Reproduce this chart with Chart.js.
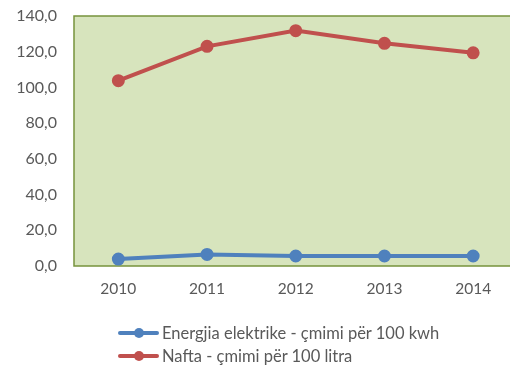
<!DOCTYPE html>
<html>
<head>
<meta charset="utf-8">
<script src="https://cdn.jsdelivr.net/npm/chart.js@4/dist/chart.umd.min.js"></script>
<style>
  html, body { margin: 0; padding: 0; background: #fff; overflow: hidden; width: 510px; height: 378px; }
  #wrap { position: relative; width: 526px; height: 378px; }
  canvas { display: block; }
  #legend { position: absolute; left: 118px; top: 321px; font-family: Lato, "Open Sans", sans-serif; font-size: 16.5px; color: #595959; }
  .item { display: flex; align-items: center; height: 23px; }
  .swatch { position: relative; width: 41px; height: 4px; margin-right: 3px; border-radius: 2px; }
  .swatch span { position: absolute; left: 16px; top: -3px; width: 10px; height: 10px; border-radius: 50%; }
</style>
</head>
<body>
<div id="wrap">
  <canvas id="chart1" width="526" height="378" style="width:526px;height:378px"></canvas>
  <div id="legend"></div>
</div>
<script>
const years = ['2010', '2011', '2012', '2013', '2014'];
const energjia = [3.9, 6.5, 5.6, 5.6, 5.6];
const nafta = [103.8, 123.0, 131.8, 124.7, 119.4];
const seriesLabels = ['Energjia elektrike - çmimi për 100 kwh', 'Nafta - çmimi për 100 litra'];
const seriesColors = ['#4F81BD', '#C0504D'];

// fondo del área de trazado + borde (sin lado derecho, queda fuera de la imagen)
const plotBg = {
  id: 'plotBg',
  beforeDraw(chart) {
    const { ctx, chartArea: a } = chart;
    ctx.save();
    ctx.fillStyle = '#D7E4BD';
    ctx.fillRect(a.left, a.top, chart.width - a.left, a.bottom - a.top);
    ctx.strokeStyle = '#77933C';
    ctx.lineWidth = 1.5;
    ctx.beginPath();
    ctx.moveTo(chart.width, a.top);
    ctx.lineTo(a.left, a.top);
    ctx.lineTo(a.left, a.bottom);
    ctx.lineTo(chart.width, a.bottom);
    ctx.stroke();
    ctx.restore();
  }
};

const mkSet = (i, data) => ({
  label: seriesLabels[i],
  data: data,
  borderColor: seriesColors[i],
  backgroundColor: seriesColors[i],
  borderWidth: 4,
  pointRadius: 4.5,
  pointHoverRadius: 4.5,
  tension: 0,
  fill: false
});

const chart = new Chart(document.getElementById('chart1').getContext('2d'), {
  type: 'line',
  data: { labels: years, datasets: [mkSet(0, energjia), mkSet(1, nafta)] },
  options: {
    responsive: false,
    animation: false,
    devicePixelRatio: 1,
    layout: { padding: { left: 0, top: 16, right: 0, bottom: 72 } },
    scales: {
      x: {
        offset: true,
        grid: { display: false, drawTicks: false },
        border: { display: false },
        ticks: { color: '#595959', font: { family: 'Lato', size: 15.5 }, padding: 14 },
        afterFit: (s) => { s.height = 40; s.paddingLeft = 0; s.paddingRight = 0; }
      },
      y: {
        min: 0, max: 140,
        grid: { display: false, drawTicks: false },
        border: { display: false },
        ticks: {
          stepSize: 20,
          color: '#595959',
          font: { family: 'Lato', size: 16 },
          padding: 17,
          callback: (v) => v.toFixed(1).replace('.', ',')
        },
        afterFit: (s) => { s.width = 74; s.paddingTop = 0; s.paddingBottom = 0; }
      }
    },
    plugins: { legend: { display: false }, tooltip: { enabled: false } }
  },
  plugins: [plotBg]
});

// legend built from the datasets
const legendEl = document.getElementById('legend');
chart.data.datasets.forEach(ds => {
  const item = document.createElement('div');
  item.className = 'item';
  item.innerHTML = '<div class="swatch" style="background:' + ds.borderColor + '"><span style="background:' + ds.borderColor + '"></span></div>' + ds.label;
  legendEl.appendChild(item);
});
</script>
</body>
</html>
